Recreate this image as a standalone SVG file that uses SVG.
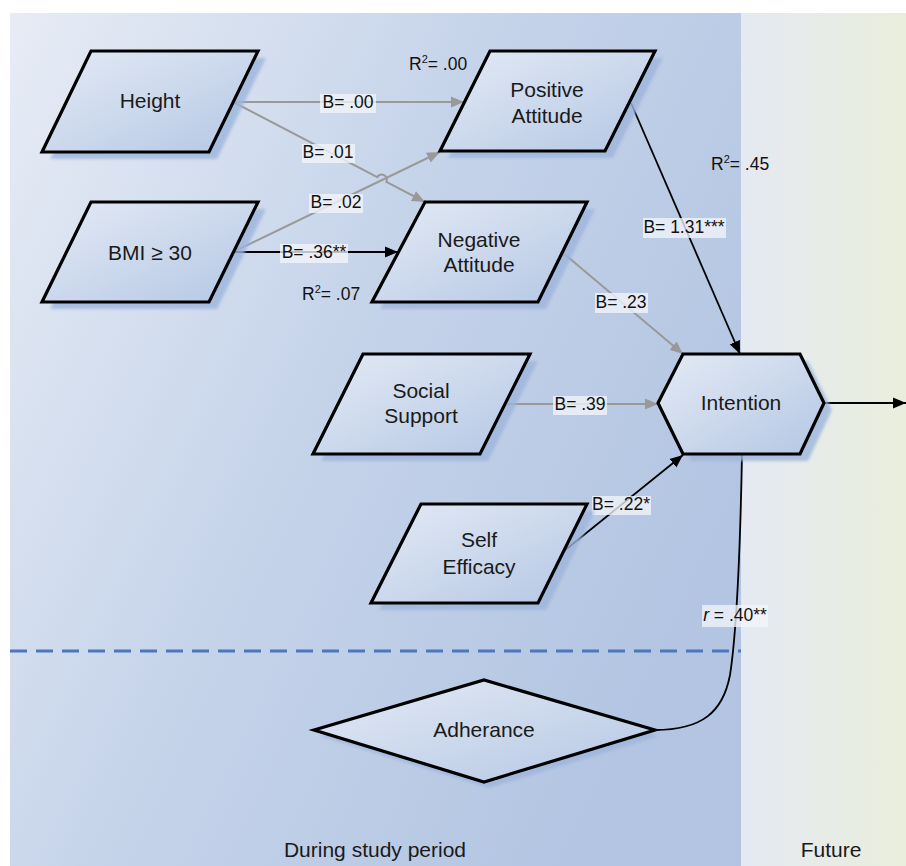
<svg xmlns="http://www.w3.org/2000/svg" width="906" height="866" viewBox="0 0 906 866">
<defs>
<linearGradient id="bgMain" x1="0" y1="0" x2="1" y2="0.55">
<stop offset="0" stop-color="#e7ecf5"/>
<stop offset="0.5" stop-color="#c6d4ea"/>
<stop offset="1" stop-color="#b3c5e2"/>
</linearGradient>
<linearGradient id="bgFuture" x1="0" y1="0" x2="1" y2="0">
<stop offset="0" stop-color="#e5e9f2"/>
<stop offset="1" stop-color="#e9eedc"/>
</linearGradient>
<linearGradient id="nodeFill" x1="0" y1="0" x2="1" y2="1">
<stop offset="0" stop-color="#e4eaf5"/>
<stop offset="1" stop-color="#b4c7e4"/>
</linearGradient>
<filter id="blur" x="-10%" y="-10%" width="120%" height="120%">
<feGaussianBlur stdDeviation="1.5"/>
</filter>
<marker id="ahGray" markerUnits="userSpaceOnUse" markerWidth="14" markerHeight="12" refX="13" refY="6" orient="auto">
<path d="M0,0.5 L13,6 L0,11.5 z" fill="#999999"/>
</marker>
<marker id="ahBlack" markerUnits="userSpaceOnUse" markerWidth="14" markerHeight="12" refX="13" refY="6" orient="auto">
<path d="M0,0.5 L13,6 L0,11.5 z" fill="#000000"/>
</marker>
</defs>
<style>
.node{fill:url(#nodeFill);stroke:#000;stroke-width:3.2;stroke-linejoin:miter}
.shadow{fill:#9db5dc;opacity:0.8;filter:url(#blur)}
.nt{font-family:"Liberation Sans",Arial,Helvetica,sans-serif;font-size:21px;fill:#1a1a1a;text-anchor:middle}
.lt{font-family:"Liberation Sans",Arial,Helvetica,sans-serif;font-size:17.5px;fill:#111;text-anchor:middle}
.rt{font-family:"Liberation Sans",Arial,Helvetica,sans-serif;font-size:17.5px;fill:#111}
.lb{fill:#f2f5fa;opacity:0.78}
.gray{fill:none;stroke:#999999;stroke-width:2}
.black{fill:none;stroke:#000;stroke-width:1.8}
</style>
<rect x="0" y="0" width="906" height="866" fill="#ffffff"/>
<rect x="10" y="13" width="731" height="853" fill="url(#bgMain)"/>
<rect x="741" y="13" width="165" height="853" fill="url(#bgFuture)"/>
<line x1="10" y1="651" x2="741" y2="651" stroke="#4d77ba" stroke-width="3" stroke-dasharray="17 9"/>

<g id="connectors">
<line class="gray" x1="233" y1="102" x2="464" y2="102" marker-end="url(#ahGray)"/>
<path class="gray" d="M233,102 L377.3,177.2 A5,5 0 0 1 386.3,181.9 L425,202" marker-end="url(#ahGray)"/>
<line class="gray" x1="233" y1="252" x2="440" y2="152" marker-end="url(#ahGray)"/>
<line class="black" x1="233" y1="252" x2="398" y2="252" marker-end="url(#ahBlack)"/>
<line class="black" x1="631" y1="103" x2="740" y2="354" marker-end="url(#ahBlack)"/>
<line class="gray" x1="562" y1="252" x2="683" y2="354" marker-end="url(#ahGray)"/>
<line class="gray" x1="504" y1="404" x2="658" y2="404" marker-end="url(#ahGray)"/>
<line class="black" x1="564" y1="551" x2="683" y2="455" marker-end="url(#ahBlack)"/>
<line class="black" x1="824" y1="403" x2="906" y2="403" marker-end="url(#ahBlack)"/>
<path class="black" d="M742,455 C740,560 737,630 730,675 C723,712 702,730 655,730" stroke-width="1.6"/>

<rect class="lb" x="320" y="94" width="56" height="19"/>
<text class="lt" x="348" y="108">B= .00</text>
<rect class="lb" x="302" y="144" width="53" height="19"/>
<text class="lt" x="328" y="158">B= .01</text>
<rect class="lb" x="309" y="194" width="54" height="19"/>
<text class="lt" x="336" y="208">B= .02</text>
<rect class="lb" x="280" y="244" width="68" height="19"/>
<text class="lt" x="314" y="258">B= .36**</text>
<rect class="lb" x="643" y="218" width="83" height="20"/>
<text class="lt" x="684" y="233">B= 1.31***</text>
<rect class="lb" x="595" y="293" width="53" height="20"/>
<text class="lt" x="621" y="308">B= .23</text>
<rect class="lb" x="553" y="396" width="54" height="19"/>
<text class="lt" x="580" y="410">B= .39</text>
<rect class="lb" x="592" y="496" width="59" height="19"/>
<text class="lt" x="621" y="510">B= .22*</text>
<rect class="lb" x="702" y="605" width="66" height="22"/>
<text class="lt" x="735" y="621"><tspan font-style="italic">r</tspan> = .40**</text>

<text class="rt" x="409" y="70">R<tspan dy="-7" font-size="11">2</tspan><tspan dy="7">= .00</tspan></text>
<text class="rt" x="302" y="300">R<tspan dy="-7" font-size="11">2</tspan><tspan dy="7">= .07</tspan></text>
<text class="rt" x="711" y="170">R<tspan dy="-7" font-size="11">2</tspan><tspan dy="7">= .45</tspan></text>
</g>

<g id="node-height">
<polygon class="shadow" points="99,58 266,58 217,159 50,159"/>
<polygon class="node" points="91,51 258,51 209,152 42,152"/>
<text class="nt" x="150" y="108">Height</text>
</g>
<g id="node-bmi">
<polygon class="shadow" points="99,209 266,209 217,309 50,309"/>
<polygon class="node" points="91,202 258,202 209,302 42,302"/>
<text class="nt" x="150" y="260">BMI ≥ 30</text>
</g>
<g id="node-positive">
<polygon class="shadow" points="498,58 663,58 613,158 448,158"/>
<polygon class="node" points="490,51 655,51 605,151 440,151"/>
<text class="nt" x="547" y="97">Positive</text>
<text class="nt" x="547" y="123">Attitude</text>
</g>
<g id="node-negative">
<polygon class="shadow" points="433,209 595,209 546,309 380,309"/>
<polygon class="node" points="425,202 587,202 538,302 372,302"/>
<text class="nt" x="479" y="247">Negative</text>
<text class="nt" x="479" y="272">Attitude</text>
</g>
<g id="node-social">
<polygon class="shadow" points="371,361 538,361 488,461 321,461"/>
<polygon class="node" points="363,354 530,354 480,454 313,454"/>
<text class="nt" x="421" y="398">Social</text>
<text class="nt" x="421" y="423">Support</text>
</g>
<g id="node-selfefficacy">
<polygon class="shadow" points="429,511 595,511 546,610 379,610"/>
<polygon class="node" points="421,504 587,504 538,603 371,603"/>
<text class="nt" x="479" y="547">Self</text>
<text class="nt" x="479" y="574">Efficacy</text>
</g>
<g id="node-intention">
<polygon class="shadow" points="666,410 691,361 808,361 832,410 808,461 691,461"/>
<polygon class="node" points="658,403 683,354 800,354 824,403 800,454 683,454"/>
<text class="nt" x="741" y="410">Intention</text>
</g>
<g id="node-adherance">
<polygon class="shadow" points="320,736 489,686 660,736 489,788"/>
<polygon class="node" points="314,730 484,680 655,730 484,782"/>
<text class="nt" x="484" y="737">Adherance</text>
</g>

<text class="nt" x="375" y="857">During study period</text>
<text class="nt" x="831" y="857">Future</text>
</svg>
